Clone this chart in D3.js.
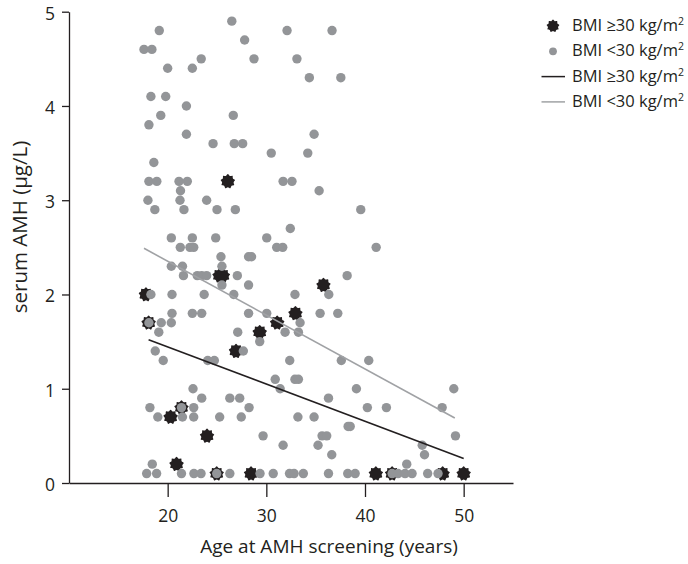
<!DOCTYPE html>
<html><head><meta charset="utf-8">
<script src="https://cdn.jsdelivr.net/npm/d3@7"></script>
<style>
body{margin:0;background:#fff;}
text{font-family:"Open Sans",sans-serif;fill:#231f20;}
</style>
</head><body>
<svg id="chart" width="688" height="564"></svg>
<script>
// ---- data (age in years, serum AMH in µg/L) ----
const grayPoints = [
[26.5,4.9],
[19.15,4.8],[32.1,4.8],[36.66,4.8],
[27.8,4.7],
[17.6,4.6],[18.4,4.6],
[23.4,4.5],[28.75,4.5],[33.1,4.5],
[20.0,4.4],[22.5,4.4],
[34.36,4.3],[37.55,4.3],
[18.3,4.1],[19.8,4.1],
[21.9,4.0],
[19.3,3.9],[26.65,3.9],
[18.1,3.8],
[21.9,3.7],[34.84,3.7],
[24.6,3.6],[26.75,3.6],[27.6,3.6],
[30.5,3.5],[34.2,3.5],
[18.6,3.4],
[18.1,3.2],[18.9,3.2],[21.15,3.2],[21.99,3.2],[31.7,3.2],[32.6,3.2],
[21.3,3.1],[35.35,3.1],
[18.0,3.0],[21.25,3.0],[23.95,3.0],
[18.7,2.9],[21.65,2.9],[25.0,2.9],[26.86,2.9],[39.57,2.9],
[32.43,2.7],
[20.37,2.6],[22.5,2.6],[24.87,2.6],[30.04,2.6],
[21.28,2.5],[22.26,2.5],[22.64,2.5],[31.05,2.5],[31.66,2.5],[41.13,2.5],
[25.4,2.4],[28.2,2.4],[28.5,2.4],
[20.37,2.3],[21.5,2.3],[25.5,2.3],
[21.6,2.2],[23.0,2.2],[23.45,2.2],[23.95,2.2],[27.06,2.2],[38.19,2.2],
[25.5,2.1],[28.2,2.1],
[18.3,2.0],[20.44,2.0],[23.7,2.0],[26.7,2.0],[32.9,2.0],[36.33,2.0],
[20.44,1.8],[22.5,1.8],[23.45,1.8],[28.2,1.8],[30.04,1.8],[35.45,1.8],[37.24,1.8],
[18.1,1.7],[19.35,1.7],[20.37,1.7],[33.42,1.7],
[19.1,1.6],[27.1,1.6],[31.9,1.6],[33.25,1.6],
[29.33,1.5],
[18.74,1.4],[27.67,1.4],
[19.55,1.3],[24.06,1.3],[24.73,1.3],[32.37,1.3],[37.6,1.3],[40.38,1.3],
[30.9,1.1],[32.9,1.1],[33.25,1.1],
[22.57,1.0],[31.4,1.0],[39.13,1.0],[49.0,1.0],
[23.45,0.9],[26.3,0.9],[27.3,0.9],[36.3,0.9],
[18.2,0.8],[21.4,0.8],[22.64,0.8],[28.25,0.8],[40.24,0.8],[42.17,0.8],[47.82,0.8],
[19.0,0.7],[21.5,0.7],[22.64,0.7],[25.27,0.7],[27.46,0.7],[33.2,0.7],[34.84,0.7],
[38.29,0.6],[38.5,0.6],
[29.67,0.5],[35.65,0.5],[36.12,0.5],[49.17,0.5],
[31.7,0.4],[35.24,0.4],[45.8,0.4],
[36.63,0.3],[46.03,0.3],
[18.44,0.2],[44.23,0.2],
[17.87,0.1],[18.88,0.1],[21.4,0.1],[22.66,0.1],[23.38,0.1],[24.97,0.1],[26.3,0.1],
[29.36,0.1],[30.7,0.1],[32.35,0.1],[32.81,0.1],[33.75,0.1],[36.3,0.1],[38.25,0.1],
[39.0,0.1],[42.75,0.1],[43.35,0.1],[44.06,0.1],[44.77,0.1],[46.35,0.1],[47.4,0.1]
];
const blackPoints = [
[26.1,3.2],[25.25,2.2],[25.6,2.2],[35.79,2.1],[17.8,2.0],[32.95,1.8],
[18.07,1.7],[31.1,1.7],[29.33,1.6],[26.93,1.4],[21.4,0.8],[20.3,0.7],
[23.99,0.5],[20.9,0.2],[24.97,0.1],[28.45,0.1],[41.1,0.1],[42.75,0.1],
[47.87,0.1],[50.0,0.1]
];
const fitBlack = [[18.07,1.52],[50.0,0.26]];
const fitGray  = [[17.6,2.49],[49.1,0.69]];
const xTicks = [20,30,40,50];
const yTicks = [0,1,2,3,4,5];
const xTitle = "Age at AMH screening (years)";
const yTitle = "serum AMH (µg/L)";
const legendLabels = ["BMI ≥30 kg/m","BMI <30 kg/m","BMI ≥30 kg/m","BMI <30 kg/m"];
const legendKinds = ["star","dot","blackline","grayline"];

// ---- styles ----
const INK = "#231f20", GRAY = "#939598", GRAYLINE = "#a0a2a5";

const svg = d3.select("#chart");
const x = d3.scaleLinear().domain([10,55]).range([69,513]);
const y = d3.scaleLinear().domain([0,5]).range([483,11.7]);

function starPath(r){
  const n = 9, pts = [];
  for(let i=0;i<2*n;i++){
    const a = i*Math.PI/n;
    const rr = (i%2) ? r*0.8 : r;
    pts.push([rr*Math.sin(a), -rr*Math.cos(a)]);
  }
  return d3.line().curve(d3.curveCardinalClosed.tension(0.2))(pts);
}

// axes
const xAxis = svg.append("g").attr("transform","translate(0,483)")
  .call(d3.axisBottom(x).tickValues(xTicks).tickSize(14).tickSizeOuter(0).tickPadding(13).tickFormat(d3.format("d")));
const yAxis = svg.append("g").attr("transform","translate(69,0)")
  .call(d3.axisLeft(y).tickValues(yTicks).tickSize(7).tickSizeOuter(0).tickPadding(7).tickFormat(d3.format("d")));
[xAxis,yAxis].forEach(g=>{
  g.select(".domain").attr("stroke",INK).attr("stroke-width",1.3);
  g.selectAll(".tick line").attr("stroke",INK).attr("stroke-width",1.3);
  g.selectAll(".tick text").attr("fill",INK).style("font-size","17.5px").style("font-family","'Open Sans',sans-serif");
});
yAxis.selectAll(".tick text").attr("dy","0.42em");

// points: stars under dots
svg.append("g").selectAll("path").data(blackPoints).join("path")
  .attr("d",starPath(7.3))
  .attr("transform",d=>`translate(${x(d[0])},${y(d[1])})`)
  .attr("fill",INK);
svg.append("g").selectAll("circle").data(grayPoints).join("circle")
  .attr("cx",d=>x(d[0])).attr("cy",d=>y(d[1])).attr("r",4.7)
  .attr("fill",GRAY);

// regression lines
const line = d3.line().x(d=>x(d[0])).y(d=>y(d[1]));
svg.append("path").attr("d",line(fitGray)).attr("stroke",GRAYLINE).attr("stroke-width",1.6).attr("fill","none");
svg.append("path").attr("d",line(fitBlack)).attr("stroke",INK).attr("stroke-width",1.6).attr("fill","none");

// titles
svg.append("text").attr("x",329).attr("y",553).attr("text-anchor","middle")
  .style("font-size","19px").text(xTitle);
svg.append("text").attr("transform","translate(27,227) rotate(-90)").attr("text-anchor","middle")
  .style("font-size","20.5px").text(yTitle);

// legend
const lg = svg.append("g");
legendLabels.forEach((lab,i)=>{
  const cy = 26 + i*25.3;
  const k = legendKinds[i];
  if(k==="star") lg.append("path").attr("d",starPath(6.4)).attr("transform",`translate(553,${cy})`).attr("fill",INK);
  if(k==="dot") lg.append("circle").attr("cx",553).attr("cy",cy).attr("r",3.9).attr("fill",GRAY);
  if(k==="blackline") lg.append("line").attr("x1",541.5).attr("x2",565).attr("y1",cy).attr("y2",cy).attr("stroke",INK).attr("stroke-width",1.5);
  if(k==="grayline") lg.append("line").attr("x1",541.5).attr("x2",565).attr("y1",cy).attr("y2",cy).attr("stroke",GRAYLINE).attr("stroke-width",1.5);
  const t = lg.append("text").attr("x",572).attr("y",cy+5).style("font-size","16.5px");
  t.append("tspan").text(lab);
  t.append("tspan").attr("dy",-6).style("font-size","10.5px").text("2");
});
</script>
</body></html>
